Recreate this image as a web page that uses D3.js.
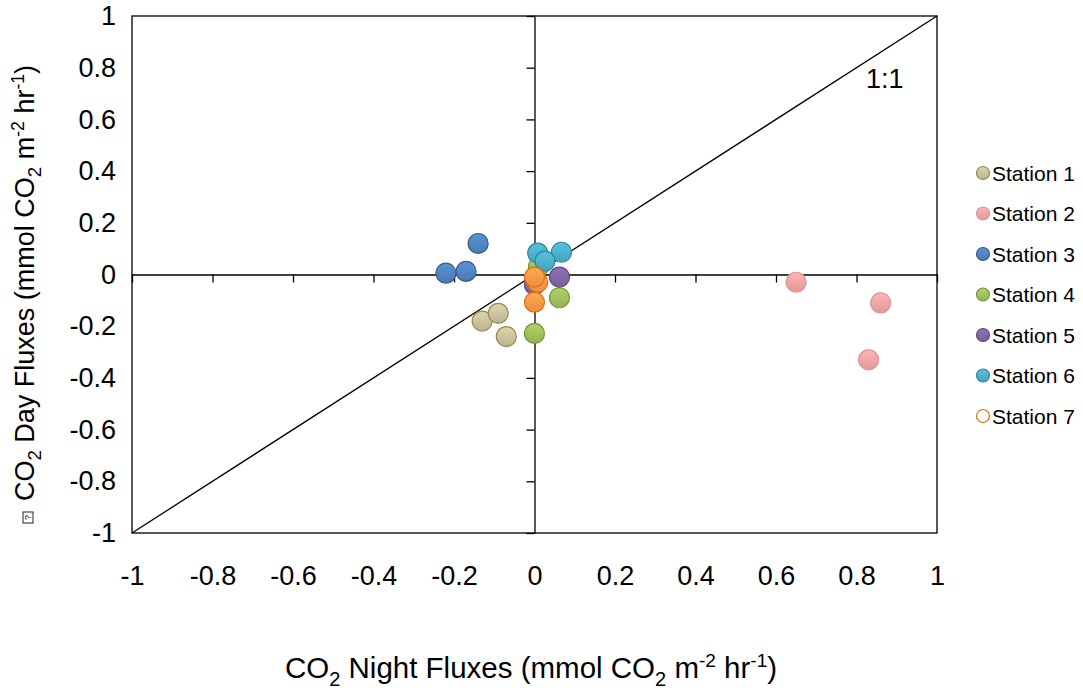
<!DOCTYPE html>
<html>
<head>
<meta charset="utf-8">
<script src="https://cdn.jsdelivr.net/npm/d3@7"></script>
<style>
  body { margin: 0; background: #fff; }
  svg { font-family: "Liberation Sans", Arial, sans-serif; }
</style>
</head>
<body>
<div id="app"></div>
<script>
// station names + marker colours
const stations = ['Station 1', 'Station 2', 'Station 3', 'Station 4', 'Station 5', 'Station 6', 'Station 7'];
const fills = ['#c4bd97', '#eda0a0', '#4f81bd', '#9bbb59', '#8064a2', '#4bacc6', '#f79646'];
const strokes = ['#948a54', '#d99594', '#385d8a', '#77933c', '#5f497a', '#31859c', '#e46c0a'];

// [night, day] flux per station
const station1 = [[-0.13, -0.18], [-0.09, -0.15], [-0.07, -0.24]];
const station2 = [[0.65, -0.03], [0.86, -0.11], [0.83, -0.33]];
const station3 = [[-0.14, 0.12], [-0.22, 0.005], [-0.17, 0.012]];
const station4 = [[0.01, 0.03], [0.0, -0.228], [0.062, -0.09]];
const station5 = [[0.0, -0.04], [0.062, -0.01]];
const station6 = [[0.008, 0.083], [0.067, 0.086], [0.026, 0.052]];
const station7 = [[0.0, -0.107], [0.008, -0.03], [0.0, -0.01]];
const series = [station1, station2, station3, station4, station5, station6, station7];

const tickValues = [-1, -0.8, -0.6, -0.4, -0.2, 0, 0.2, 0.4, 0.6, 0.8, 1];
const tickLabels = ['-1', '-0.8', '-0.6', '-0.4', '-0.2', '0', '0.2', '0.4', '0.6', '0.8', '1'];

const W = 1083, H = 692;
const margin = { left: 132, top: 16 };
const pw = 805, ph = 517;
const labelSize = 27;

const svg = d3.select('#app').append('svg')
  .attr('width', W).attr('height', H);

const defs = svg.append('defs');
fills.forEach((c, i) => {
  const g = defs.append('linearGradient')
    .attr('id', 'grad' + i).attr('x1', 0).attr('y1', 0).attr('x2', 0).attr('y2', 1);
  g.append('stop').attr('offset', '0%').attr('stop-color', d3.color(c).brighter(0.35));
  g.append('stop').attr('offset', '100%').attr('stop-color', d3.color(c).darker(0.15));
});

const x = d3.scaleLinear().domain([-1, 1]).range([margin.left, margin.left + pw]);
const y = d3.scaleLinear().domain([-1, 1]).range([margin.top + ph, margin.top]);

// frame
svg.append('rect')
  .attr('x', x(-1)).attr('y', y(1))
  .attr('width', pw).attr('height', ph)
  .attr('fill', 'none').attr('stroke', '#000').attr('stroke-width', 1.3);

// zero axes with ticks
const fmt = d => tickLabels[tickValues.indexOf(d)];

svg.append('g')
  .attr('transform', `translate(0,${y(0)})`)
  .call(d3.axisBottom(x).tickValues(tickValues).tickSizeInner(8).tickSizeOuter(0).tickFormat(''))
  .call(g => g.selectAll('line,path').attr('stroke', '#000').attr('stroke-width', 1.3));

svg.append('g')
  .attr('transform', `translate(${x(0)},0)`)
  .call(d3.axisLeft(y).tickValues(tickValues).tickSizeInner(8).tickSizeOuter(0).tickFormat(''))
  .call(g => g.selectAll('line,path').attr('stroke', '#000').attr('stroke-width', 1.3));

// tick labels at plot edges
svg.append('g')
  .attr('transform', `translate(0,${y(-1)})`)
  .call(d3.axisBottom(x).tickValues(tickValues).tickSize(0).tickPadding(33).tickFormat(fmt))
  .call(g => g.select('.domain').remove())
  .call(g => g.selectAll('text').attr('font-size', labelSize).attr('fill', '#000')
    .attr('font-family', '"Liberation Sans", Arial, sans-serif'));

svg.append('g')
  .attr('transform', `translate(${x(-1)},0)`)
  .call(d3.axisLeft(y).tickValues(tickValues).tickSize(0).tickPadding(16).tickFormat(fmt))
  .call(g => g.select('.domain').remove())
  .call(g => g.selectAll('text').attr('font-size', labelSize).attr('fill', '#000')
    .attr('font-family', '"Liberation Sans", Arial, sans-serif'));

// 1:1 line
svg.append('line')
  .attr('x1', x(-1)).attr('y1', y(-1)).attr('x2', x(1)).attr('y2', y(1))
  .attr('stroke', '#000').attr('stroke-width', 1.3);

svg.append('text')
  .attr('x', 866).attr('y', 88)
  .attr('font-size', labelSize).text('1:1');

// points
series.forEach((pts, i) => {
  svg.append('g').selectAll('circle').data(pts).join('circle')
    .attr('cx', d => x(d[0])).attr('cy', d => y(d[1]))
    .attr('r', 10)
    .attr('fill', `url(#grad${i})`)
    .attr('stroke', strokes[i]).attr('stroke-width', 1.2);
});

// legend
const legend = svg.append('g');
stations.forEach((s, i) => {
  const ly = 173 + i * 40.5;
  legend.append('circle')
    .attr('cx', 983).attr('cy', ly).attr('r', 6.5)
    .attr('fill', i === 6 ? '#fff' : `url(#grad${i})`)
    .attr('stroke', strokes[i]).attr('stroke-width', 1.2);
  legend.append('text')
    .attr('x', 992).attr('y', ly + 7.5)
    .attr('font-size', 21).text(s);
});

// axis titles with sub/superscripts
function title(sel, parts, k) {
  parts.forEach(([t, kind]) => {
    const ts = sel.append('tspan').text(t);
    if (kind === 'sub') ts.attr('font-size', 20 * k).attr('dy', 8 * k);
    else if (kind === 'sup') ts.attr('font-size', 19 * k).attr('dy', -11 * k);
    else if (kind === 'subEnd') ts.attr('dy', -8 * k);
    else if (kind === 'supEnd') ts.attr('dy', 11 * k);
  });
}

const titleParts = name => [
  ['CO'], ['2', 'sub'], [` ${name} Fluxes (mmol CO`, 'subEnd'], ['2', 'sub'],
  [' m', 'subEnd'], ['-2', 'sup'], [' hr', 'supEnd'], ['-1', 'sup'], [')', 'supEnd']
];

const xt = svg.append('text')
  .attr('x', 531).attr('y', 678)
  .attr('text-anchor', 'middle').attr('font-size', 29.5);
title(xt, titleParts('Night'), 1);

const yt = svg.append('text')
  .attr('transform', 'translate(34,283) rotate(-90)')
  .attr('text-anchor', 'middle').attr('font-size', 27);
title(yt, titleParts('Day'), 27 / 29);

// stray missing-glyph box below the y title
svg.append('rect')
  .attr('x', 23).attr('y', 512).attr('width', 10).attr('height', 11)
  .attr('fill', 'none').attr('stroke', '#222').attr('stroke-width', 1);
svg.append('text')
  .attr('transform', 'translate(31,517.5) rotate(-90)')
  .attr('text-anchor', 'middle').attr('font-size', 9).text('?');
</script>
</body>
</html>
